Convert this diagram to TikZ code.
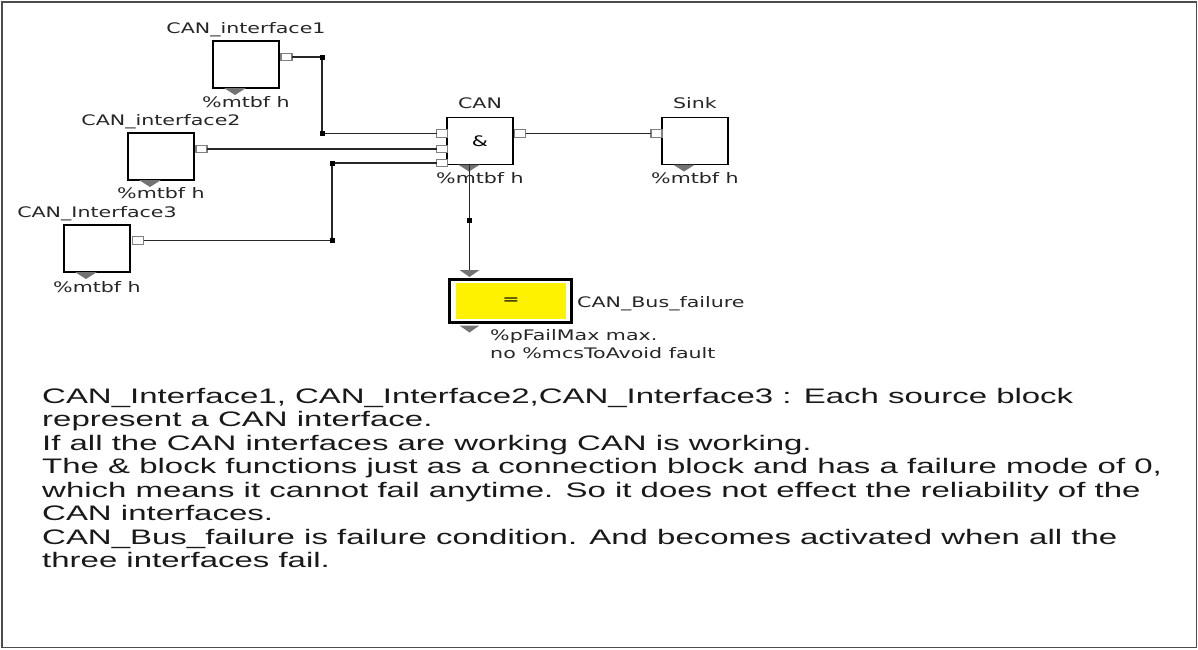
\documentclass[tikz,border=0pt]{standalone}
\usepackage{fontspec}
\newfontfamily\blockfont[FakeStretch=1.42]{DejaVu Sans}
\newfontfamily\notefont[FakeStretch=1.57]{Liberation Sans}
\tikzset{
  block/.style={draw=black, line width=1.8pt, fill=white, minimum width=66pt,
    minimum height=47pt, inner sep=0pt, outer sep=0pt},
  port/.style={draw=black!50, line width=1.1pt, fill=white, minimum width=11pt,
    minimum height=7.5pt, inner sep=0pt, outer sep=0pt},
  wire/.style={draw=black!85, line width=1.7pt},
  dot/.style={fill=black, minimum size=5pt, inner sep=0pt},
  tag/.style={font=\blockfont\fontsize{14.5}{17}\selectfont, text=black!85,
    inner sep=0pt, anchor=base},
  note/.style={font=\notefont\fontsize{21}{23.5}\selectfont, text=black!90,
    inner sep=0pt, anchor=base west},
  tri/.style={fill=black!55},
}
% grey output marker under a block
\newcommand\downtri[1]{%
  \fill[tri] ([xshift=11pt]#1.south west) -- ([xshift=33pt]#1.south west)
    -- ([xshift=22pt,yshift=-7pt]#1.south west) -- cycle;}
\begin{document}
\begin{tikzpicture}[x=1pt,y=-1pt]
\useasboundingbox (0,0) rectangle (1198,649);
\draw[black!70, line width=1.5pt] (1.75,1.75) rectangle (1196.25,647.25);

% junctions
\coordinate (j1) at (322,57);
\coordinate (j2) at (322,133.5);
\coordinate (j3) at (332,240.5);
\coordinate (j4) at (332,163);
\coordinate (j5) at (469.5,220);
\coordinate (failin) at (469.5,270);

% blocks
\node[block] (i1) at (246,64.5) {};
\node[block] (i2) at (161,156.5) {};
\node[block] (i3) at (97,248.5) {};
\node[block, font=\blockfont\fontsize{14.5}{17}\selectfont] (can) at (480,141) {\&};
\node[block] (sink) at (695,141) {};

\downtri{i1}
\downtri{i2}
\downtri{i3}
\downtri{can}
\downtri{sink}

% block names and rates
\node[tag] (i1name) at (246,33) {CAN\_interface1};
\node[tag] (i1rate) at (246,107) {\%mtbf h};
\node[tag] (i2name) at (161,125) {CAN\_interface2};
\node[tag] (i2rate) at (161,198) {\%mtbf h};
\node[tag] (i3name) at (97,217) {CAN\_Interface3};
\node[tag] (i3rate) at (97,292) {\%mtbf h};
\node[tag] (canname) at (480,108) {CAN};
\node[tag] (canrate) at (480,183) {\%mtbf h};
\node[tag] (sinkname) at (695,108) {Sink};
\node[tag] (sinkrate) at (695,183) {\%mtbf h};

% ports
\node[port] (i1o) at (286.5,57) {};
\node[port] (i2o) at (201.5,149) {};
\node[port] (i3o) at (138,240.5) {};
\node[port] (cani1) at (442,133.5) {};
\node[port] (cani2) at (442,149) {};
\node[port] (cani3) at (442,163) {};
\node[port] (cano) at (520,133.5) {};
\node[port] (sinki) at (656.5,133.5) {};

% failure condition block
\node[draw=black, line width=3pt, fill=white, minimum width=122pt,
  minimum height=43pt, inner sep=0pt] (fail) at (510.5,301) {};
\node[fill=yellow, minimum width=110pt, minimum height=36pt, inner sep=0pt,
  font=\blockfont\fontsize{14.5}{17}\selectfont] (failfill) at (511,301) {=};
\fill[tri] ([xshift=11.5pt,yshift=-1.5pt]fail.south west)
  -- ([xshift=31.5pt,yshift=-1.5pt]fail.south west)
  -- ([xshift=21.5pt,yshift=-8.5pt]fail.south west) -- cycle;
\fill[tri] ([xshift=-10pt]failin) -- ([xshift=10pt]failin)
  -- ([yshift=-7pt]failin) -- cycle;
\node[tag, anchor=base west] (failname) at (577,307) {CAN\_Bus\_failure};
\node[tag, anchor=base west] (failp) at (490,340) {\%pFailMax max.};
\node[tag, anchor=base west] (failm) at (490,358) {no \%mcsToAvoid fault};

% wires
\draw[wire] (i1o) -- (j1) -- (j2) -- (cani1);
\draw[wire] (i2o) -- (cani2);
\draw[wire] (i3o) -- (j3) -- (j4) -- (cani3);
\draw[wire] (cano) -- (sinki);
\draw[wire] (can.south -| j5) -- (j5) -- (failin);

\node[dot] (d1) at (j1) {};
\node[dot] (d2) at (j2) {};
\node[dot] (d3) at (j3) {};
\node[dot] (d4) at (j4) {};
\node[dot] (d5) at (j5) {};

% description
\node[note] (n1) at (42,403) {CAN\_Interface1, CAN\_Interface2,CAN\_Interface3 : Each source block};
\node[note] (n2) at (42,426.5) {represent a CAN interface.};
\node[note] (n3) at (42,450) {If all the CAN interfaces are working CAN is working.};
\node[note] (n4) at (42,473.5) {The \& block functions just as a connection block and has a failure mode of 0,};
\node[note] (n5) at (42,497) {which means it cannot fail anytime. So it does not effect the reliability of the};
\node[note] (n6) at (42,520.5) {CAN interfaces.};
\node[note] (n7) at (42,544) {CAN\_Bus\_failure is failure condition. And becomes activated when all the};
\node[note] (n8) at (42,567.5) {three interfaces fail.};
\end{tikzpicture}
\end{document}
